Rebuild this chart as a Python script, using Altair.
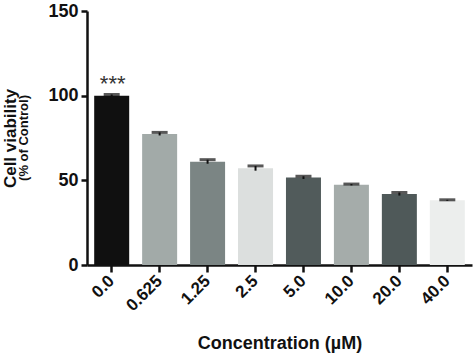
import altair as alt
import pandas as pd

concentrations = ["0.0", "0.625", "1.25", "2.5", "5.0", "10.0", "20.0", "40.0"]
viability = [100.0, 77.4, 61.0, 57.1, 51.6, 47.4, 41.9, 38.2]
errors = [0.7, 0.9, 1.2, 1.4, 0.8, 0.4, 0.9, 0.3]
bar_colors = ["#101010", "#a2aaa8", "#7b8584", "#dcdfde", "#515b5b", "#a5acaa", "#4f5959", "#eceeed"]
significance = ["***", "", "", "", "", "", "", ""]

df = pd.DataFrame({
    "conc": concentrations,
    "value": viability,
    "err": errors,
    "color": bar_colors,
    "sig": significance,
})
df["lo"] = df["value"] - df["err"]
df["hi"] = df["value"] + df["err"]

FONT = "Liberation Sans"

x_enc = alt.X(
    "conc:N",
    sort=concentrations,
    scale=alt.Scale(paddingInner=0.27, paddingOuter=0.15),
    axis=alt.Axis(
        title="Concentration (µM)",
        titleFont=FONT, titleFontSize=18, titleFontWeight="bold", titleColor="#111",
        titleBaseline="alphabetic", titleY=83,
        labelFont=FONT, labelFontSize=17, labelFontWeight="bold", labelColor="#111",
        labelAngle=-45, labelAlign="right", labelBaseline="middle", labelPadding=6,
        domainColor="#111", domainWidth=2.5, tickColor="#111", tickWidth=2.5, tickSize=7,
        grid=False,
    ),
)

y_scale = alt.Scale(domain=[0, 150], nice=False)
y_axis = alt.Axis(
    title="Cell viability",
    titleFont=FONT, titleFontSize=17, titleFontWeight="bold", titleColor="#111",
    titleAngle=270, titleBaseline="alphabetic", titleX=-72, titleY=127,
    titleAlign="center",
    labelFont=FONT, labelFontSize=18, labelFontWeight="bold", labelColor="#111",
    labelPadding=3,
    values=[0, 50, 100, 150],
    domainColor="#111", domainWidth=2.5, tickColor="#111", tickWidth=2.5, tickSize=6,
    grid=False,
)

base = alt.Chart(df)

bars = base.mark_bar().encode(
    x=x_enc,
    y=alt.Y("value:Q", scale=y_scale, axis=y_axis),
    color=alt.Color("color:N", scale=None),
)

stems = base.mark_rule(color="#111", strokeWidth=2).encode(
    x=alt.X("conc:N", sort=concentrations),
    y="lo:Q",
    y2="hi:Q",
)

caps = base.mark_tick(color="#111", size=16, thickness=3).encode(
    x=alt.X("conc:N", sort=concentrations),
    y="hi:Q",
)

stars = base.mark_text(
    font=FONT, fontSize=22, color="#333333", baseline="alphabetic", align="center", dy=-3, dx=1
).encode(
    x=alt.X("conc:N", sort=concentrations),
    y="hi:Q",
    text="sig:N",
)

subtitle = alt.Chart(pd.DataFrame({"t": ["(% of Control)"]})).mark_text(
    font=FONT, fontSize=13, fontWeight="bold", color="#111",
    angle=270, align="center", baseline="alphabetic",
).encode(
    x=alt.value(-59),
    y=alt.value(127),
    text="t:N",
)

chart = alt.layer(bars, stems, caps, stars, subtitle).properties(
    width=385,
    height=254,
    padding={"left": 87, "top": 11, "right": 2, "bottom": 89},
    autosize=alt.AutoSizeParams(type="none"),
    background="white",
).configure_view(stroke=None)

chart.save("out.html", embed_options={"renderer": "svg", "actions": False})
